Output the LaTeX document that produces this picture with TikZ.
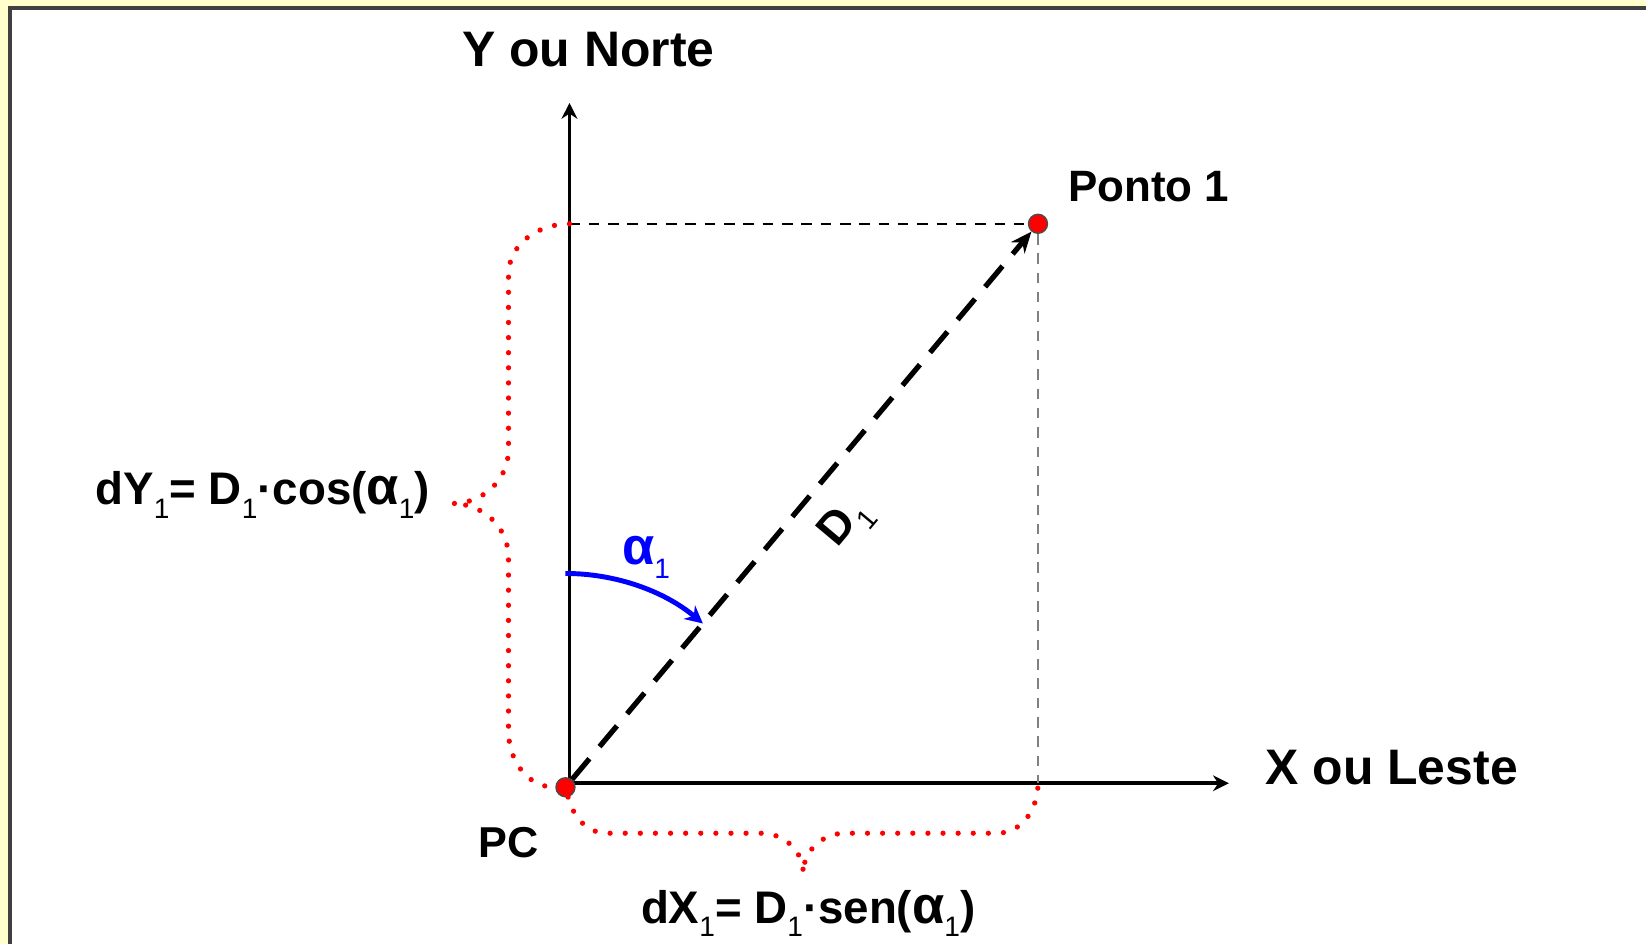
\documentclass[tikz,border=0pt]{standalone}
\usepackage{fontspec}
\setmainfont{Liberation Sans}
\usetikzlibrary{arrows.meta, calc}
\definecolor{paper}{RGB}{255,255,204}
\newcommand{\ix}[1]{\raisebox{-0.3em}{\fontsize{8}{8}\selectfont\mdseries #1}}
\newcommand{\alf}{\scalebox{1.15}{α}}

\begin{document}
\begin{tikzpicture}[x=0.01cm, y=0.01cm, >=Stealth,
  axis/.style={->, line width=1.1pt, >={Stealth[length=4.5pt, width=4.5pt]}},
  dot/.style={circle, draw=black!70, fill=red, inner sep=0pt, minimum size=5.4pt, line width=0.4pt},
  brace/.style={red, line width=1.5pt, line cap=round, dash pattern=on 0pt off 4.3pt},
  guide/.style={line width=0.5pt, dash pattern=on 3pt off 2.5pt},
  lbl/.style={inner sep=0pt, font=\fontsize{13}{15}\selectfont\bfseries}]

% --- frame ---
\fill[paper] (0,0) rectangle (1648,-945);
\fill[white] (10,-8) rectangle (1648,-945);
\draw[black!75, line width=0.9pt] (10,-945) -- (10,-8) -- (1648,-8);

% --- axes ---
\coordinate (O) at (570,-784);
\coordinate (ytop) at (570,-103);
\coordinate (xend) at (1230,-784);
\draw[axis] (O) -- (ytop);
\draw[axis] (O) -- (xend);
\node[lbl, font=\fontsize{14.2}{16}\selectfont\bfseries] (ylab) at (589,-50) {Y ou Norte};
\node[lbl, font=\fontsize{14.2}{16}\selectfont\bfseries] (xlab) at (1393,-768) {X ou Leste};

% --- points ---
\node[dot] (PC) at (566,-788) {};
\node[dot] (P1) at (1039,-224) {};
\node[lbl, font=\fontsize{12.5}{15}\selectfont\bfseries] (p1lab) at (1150,-187) {Ponto 1};
\node[lbl, font=\fontsize{12.3}{15}\selectfont\bfseries] (pclab) at (509,-843) {PC};

% guides
\draw[guide, black] (P1 -| O) -- (P1);
\draw[guide, gray] (P1) -- (P1 |- O);

% --- distance ---
\draw[line width=1.5pt, dash pattern=on 7.7pt off 4.5pt, ->, >={Stealth[length=6pt, width=5pt]}] (PC) -- (P1);
\node[lbl, rotate=50] (d1lab) at ($(PC)!0.52!(P1) + (-40:46)$) {D\ix{1}};

% azimuth
\draw[blue, line width=1.4pt, ->, >={Stealth[length=5pt, width=5pt]}] ($(PC)+(90:214)$) arc[start angle=90, end angle=50, radius=214];
\node[lbl, blue, anchor=base west] (alab) at (622,-565) {\alf\ix{1}};

% --- braces ---
\draw[brace] (P1 -| O) to[out=180, in=90] (509,-275) -- (509,-450) to[out=-90, in=0] (453,-504)
  to[out=0, in=90] (509,-558) -- (509,-732) to[out=-90, in=180] (PC);
\draw[brace] (PC) to[out=-75, in=180] (608,-834) -- (762,-834) to[out=0, in=90] (804,-874)
  to[out=90, in=180] (846,-834) -- (998,-834) to[out=0, in=-90] (P1 |- O);
\node[lbl, anchor=base west] (dylab) at (95,-505) {dY\ix{1}= D\ix{1}·cos(\alf\ix{1})};
\node[lbl, anchor=base west] (dxlab) at (641,-924) {dX\ix{1}= D\ix{1}·sen(\alf\ix{1})};

\end{tikzpicture}
\end{document}
